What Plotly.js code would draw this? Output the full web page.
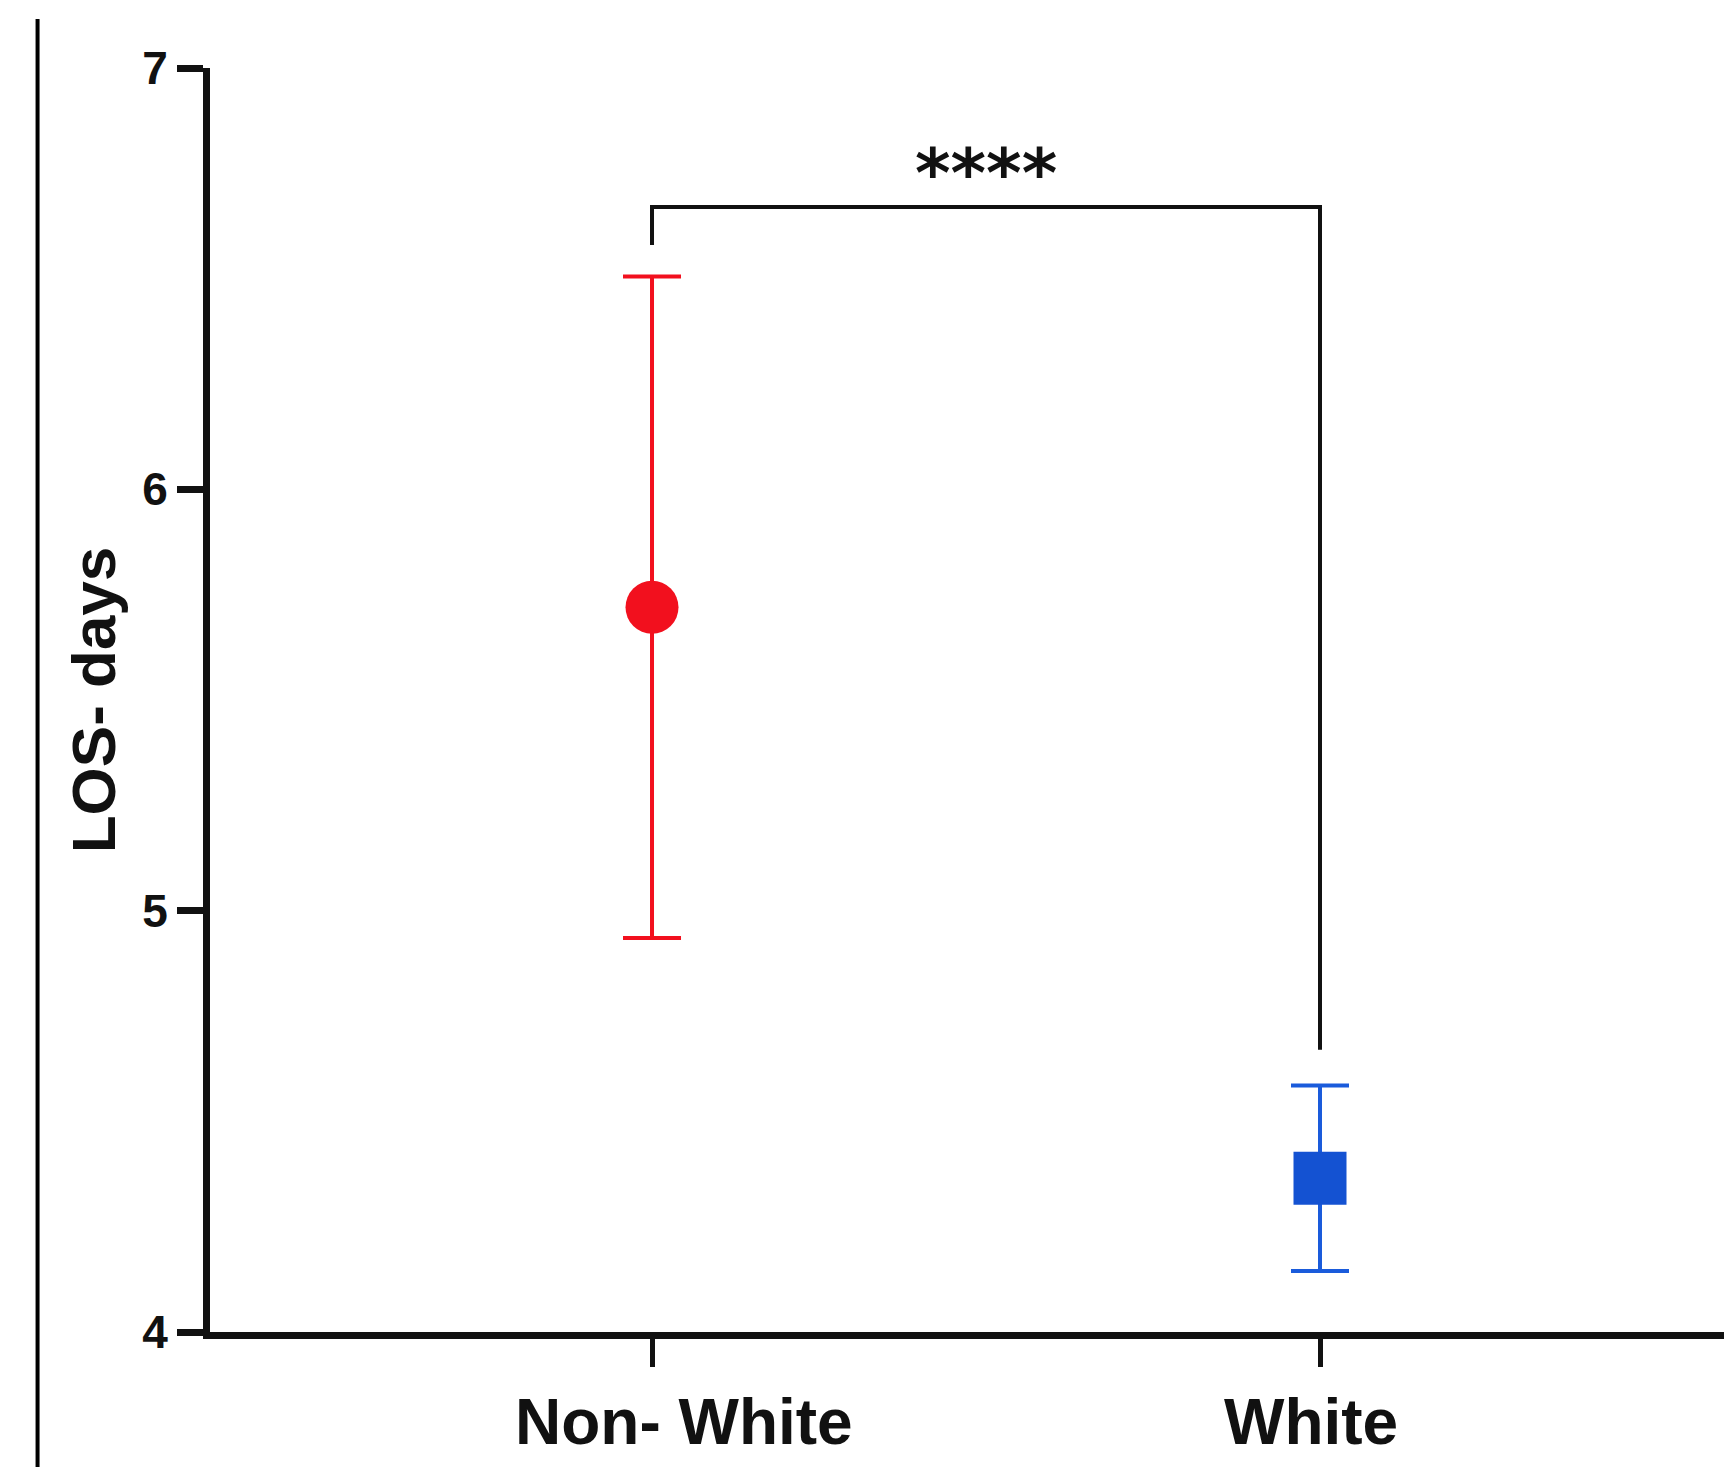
<!DOCTYPE html>
<html>
<head>
<meta charset="utf-8">
<script src="https://cdn.plot.ly/plotly-3.0.1.min.js"></script>
<style>html,body{margin:0;padding:0;background:#fff;}#chart{width:1724px;height:1467px;}</style>
</head>
<body>
<div id="chart"></div>
<script>
// ---- data ----
const categories = ["Non- White", "White"];
const means = [5.72, 4.365];
const errors = [0.785, 0.22];
const yTicks = [4, 5, 6, 7];
const yTitle = "LOS- days";
const sigLabel = "****";
const bracketY = [6.58, 6.67, 6.67, 4.67];
const sigLabelY = 6.75;

// ---- styles ----
const markerColors = ["#F2101E", "#1452D2"];
const errorColors = ["#F2101E", "#1A5BDB"];
const symbols = ["circle", "square"];
const labelShifts = [32, -9];
const FONT = "Liberation Sans, Arial, Helvetica, sans-serif";

const traces = categories.map((c, i) => ({
  type: "scatter",
  mode: "markers",
  x: [c],
  y: [means[i]],
  marker: { symbol: symbols[i], size: 53, color: markerColors[i], line: { width: 0 } },
  error_y: { type: "data", array: [errors[i]], visible: true, color: errorColors[i], thickness: 4, width: 29 },
  cliponaxis: false,
  hoverinfo: "x+y",
  showlegend: false
}));

traces.unshift({
  type: "scatter",
  mode: "lines",
  x: [categories[0], categories[0], categories[1], categories[1]],
  y: bracketY,
  line: { color: "#111", width: 4 },
  hoverinfo: "skip",
  cliponaxis: false,
  showlegend: false
});

const catLabels = categories.map((c, i) => ({
  x: c, xref: "x", y: 0, yref: "paper",
  text: c, showarrow: false,
  xanchor: "center", yanchor: "top",
  xshift: labelShifts[i], yshift: -52,
  font: { family: FONT, size: 64, color: "#111", weight: "bold" }
}));

const layout = {
  width: 1724,
  height: 1467,
  paper_bgcolor: "#fff",
  plot_bgcolor: "#fff",
  margin: { l: 210, r: 0, t: 68, b: 135, pad: 0 },
  showlegend: false,
  xaxis: {
    type: "category",
    categoryorder: "array",
    categoryarray: categories,
    range: [-0.6617, 1.6048],
    showline: true, linecolor: "#111", linewidth: 7,
    showgrid: false, zeroline: false,
    ticks: "outside", ticklen: 28, tickwidth: 5, tickcolor: "#111",
    showticklabels: false,
    fixedrange: true
  },
  yaxis: {
    range: [4, 7],
    tickvals: yTicks,
    ticktext: yTicks.map(String),
    showline: true, linecolor: "#111", linewidth: 7,
    showgrid: false, zeroline: false,
    ticks: "outside", ticklen: 26, tickwidth: 7, tickcolor: "#111",
    tickfont: { family: FONT, size: 46, color: "#111", weight: "bold" },
    title: { text: yTitle, font: { family: FONT, size: 62, color: "#111", weight: "bold" }, standoff: 9 },
    fixedrange: true
  },
  annotations: [{
    x: 0.5, y: sigLabelY, xref: "x", yref: "y",
    text: sigLabel, showarrow: false,
    font: { family: "DejaVu Sans, sans-serif", size: 68, color: "#111", weight: "bold" },
    xanchor: "center", yanchor: "middle"
  }].concat(catLabels),
  shapes: [{
    type: "line", xref: "paper", yref: "paper",
    x0: -0.1139, x1: -0.1139, y0: -0.12, y1: 1.0387,
    line: { color: "#000", width: 4 }
  }]
};

Plotly.newPlot("chart", traces, layout, { displayModeBar: false, staticPlot: true });
</script>
</body>
</html>
